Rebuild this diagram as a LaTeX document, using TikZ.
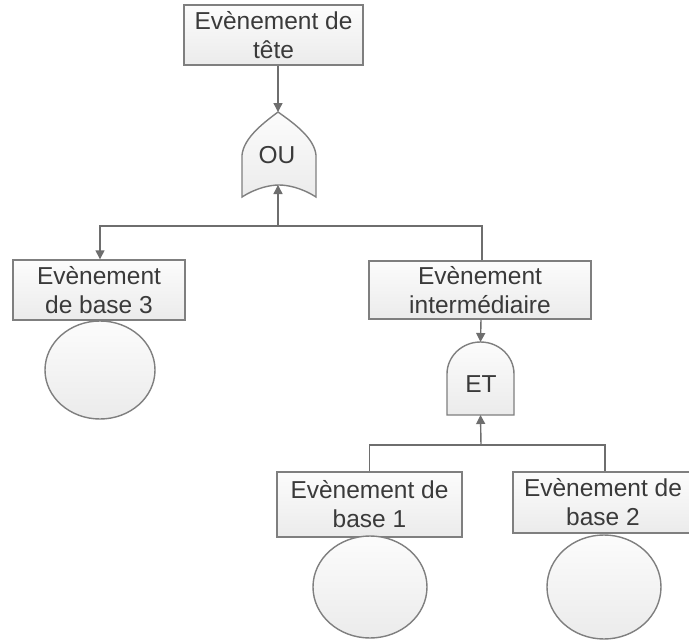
\documentclass[tikz,border=0pt]{standalone}
\usepackage{fontspec}
\setmainfont{Liberation Sans}
\usetikzlibrary{arrows.meta}
\definecolor{edge}{HTML}{7F7F7F}
\definecolor{wire}{HTML}{6E6E6E}
\definecolor{ink}{HTML}{3A3A3A}
\definecolor{filltop}{HTML}{FCFCFC}
\definecolor{fillbot}{HTML}{EBEBEB}
\tikzset{
  evbox/.style={draw=edge, line width=1.4pt, top color=filltop, bottom color=fillbot,
    text=ink, align=center, inner sep=0pt,
    font=\fontsize{24.5}{29}\selectfont},
  basecircle/.style={draw=edge, line width=1.4pt, top color=filltop, bottom color=fillbot},
  gateshape/.style={draw=edge, line width=1.4pt, top color=filltop, bottom color=fillbot},
  gatelabel/.style={text=ink, inner sep=0pt, font=\fontsize{24.5}{29}\selectfont},
  wireline/.style={draw=wire, line width=1.4pt},
  arrowline/.style={wireline, -{Triangle[width=9pt,length=9pt]}},
}
\begin{document}
\begin{tikzpicture}[x=1pt, y=-1pt]
  \clip (0,0) rectangle (689,640);
  \fill[white] (0,0) rectangle (689,640);

  % event boxes
  \node[evbox, minimum width=179pt, minimum height=60pt] (top) at (273.5,35) {Evènement de\\tête};
  \node[evbox, minimum width=172pt, minimum height=60pt] (b3) at (99,290) {Evènement\\de base 3};
  \node[evbox, minimum width=222pt, minimum height=58pt] (mid) at (480,290) {Evènement\\intermédiaire};
  \node[evbox, minimum width=185pt, minimum height=65pt] (b1) at (369.5,504.5) {Evènement de\\base 1};
  \node[evbox, minimum width=180pt, minimum height=61pt] (b2) at (603,502.5) {Evènement de\\base 2};

  % basic event circles
  \draw[basecircle] (100,370) ellipse [x radius=55, y radius=49];
  \draw[basecircle] (370,587) ellipse [x radius=57, y radius=51];
  \draw[basecircle] (604,587) ellipse [x radius=57, y radius=52];

  % OR gate
  \draw[gateshape] (278,112) .. controls (262,124) and (244,138) .. (242,155)
    -- (242,197) .. controls (256,188) and (270,185) .. (279,185)
    .. controls (288,185) and (302,188) .. (316,197)
    -- (316,155) .. controls (314,138) and (295,124) .. (278,112) -- cycle;
  \coordinate (ortop) at (278,112);
  \coordinate (orbot) at (278,185);
  \node[gatelabel] (ou) at (277,155) {OU};

  % AND gate (the y axis points down, so the dome sweeps 180 to 360)
  \draw[gateshape] (447,415) -- (447,374)
    arc[start angle=180, end angle=360, x radius=33.5, y radius=32]
    -- (514,415) -- cycle;
  \coordinate (ettop) at (480.5,342);
  \coordinate (etbot) at (480.5,415);
  \node[gatelabel] (et) at (481,384) {ET};

  % junctions
  \coordinate (j1) at (278,226);
  \coordinate (j2) at (481,445);

  % connectors
  \draw[arrowline] (top.south -| ortop) -- (ortop);
  \draw[arrowline] (j1) -- (orbot);
  \draw[wireline] ([xshift=2pt]mid.north) |- (j1);
  \draw[arrowline] (j1) -| ([xshift=1pt]b3.north);
  \draw[arrowline] ([xshift=1pt]mid.south) -- (ettop);
  \draw[arrowline] (j2) -- (etbot);
  \draw[wireline] (b1.north) |- (j2);
  \draw[wireline] (j2) -| ([xshift=2pt]b2.north);
\end{tikzpicture}
\end{document}
